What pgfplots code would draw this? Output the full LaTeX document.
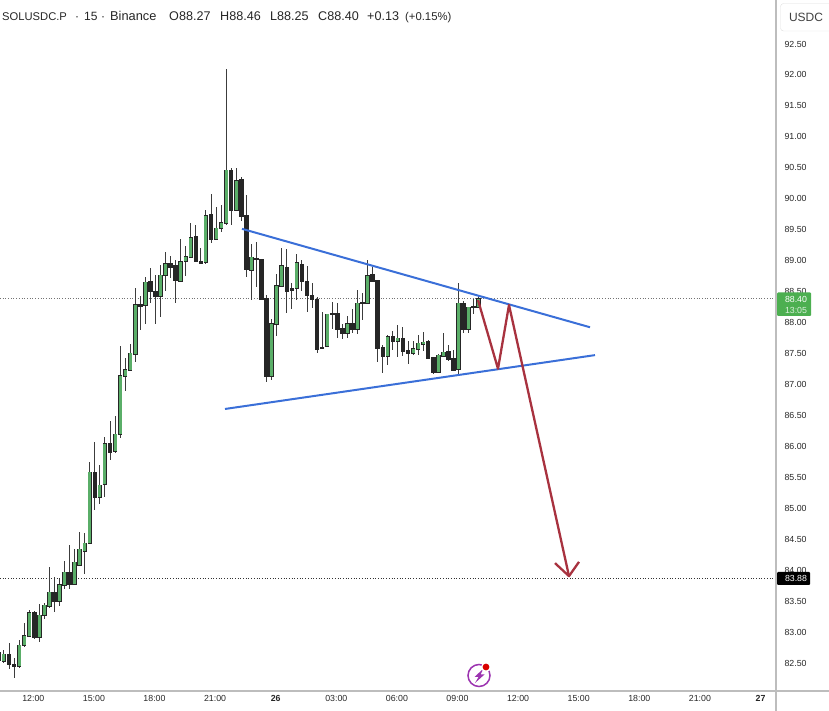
\documentclass[border=0pt]{standalone}
\usepackage{fontspec}
\setmainfont{Liberation Sans}
\usepackage{pgfplots}
\usepackage{pgfplotstable}
\pgfplotsset{compat=1.18}
\definecolor{upbody}{HTML}{5AAE68}
\definecolor{wick}{HTML}{3C3C3C}
\definecolor{tline}{HTML}{3A6FD8}
\definecolor{arrowred}{HTML}{A8323F}
\definecolor{frameline}{HTML}{BDBDBD}
\definecolor{tagbg}{HTML}{4CAF50}
\definecolor{logo}{HTML}{9C34B0}

% k high top bot low, 15 min candles
\pgfplotstableread{
k high top bot low
-1 82.71 82.68 82.56 82.50
0 82.73 82.66 82.55 82.52
3 82.89 82.80 82.46 82.44
4 83.17 82.96 82.81 82.78
5 83.37 83.33 82.95 82.94
7 83.47 83.29 82.93 82.86
8 83.48 83.45 83.29 83.22
9 84.07 83.66 83.44 83.41
11 83.88 83.78 83.52 83.43
12 84.17 83.98 83.78 83.71
14 84.36 84.14 83.79 83.77
15 84.63 84.35 84.10 84.08
16 84.61 84.45 84.33 83.95
17 85.76 85.60 84.45 84.44
19 85.71 85.39 85.19 85.09
20 86.16 86.06 85.40 85.20
22 86.50 86.21 85.94 85.91
23 87.63 87.16 86.21 86.15
24 87.45 87.25 87.16 86.91
25 87.67 87.52 87.25 87.23
26 88.58 88.30 87.51 87.38
28 88.76 88.67 88.30 88.00
31 88.94 88.78 88.45 88.11
32 89.16 88.97 88.79 88.52
35 89.37 89.00 88.69 88.68
36 89.25 89.08 89.01 88.77
37 89.62 89.39 89.08 89.08
40 89.83 89.74 89.00 88.96
42 89.89 89.54 89.36 89.36
43 89.92 89.63 89.54 89.48
44 92.11 90.48 89.62 89.59
46 90.51 90.31 89.83 89.83
49 89.29 89.07 88.87 88.38
53 88.07 88.00 87.16 87.08
54 88.80 88.61 88.00 87.80
55 89.22 88.93 88.61 88.59
58 89.12 88.98 88.57 88.38
64 88.15 88.15 87.63 87.62
68 88.13 88.00 87.84 87.76
70 88.55 88.33 87.92 87.83
72 89.02 88.77 88.33 88.33
76 87.81 87.79 87.48 87.33
78 87.98 87.76 87.72 87.46
81 87.72 87.59 87.52 87.49
82 87.81 87.68 87.59 87.49
83 87.87 87.70 87.67 87.56
86 87.50 87.49 87.21 87.20
87 87.84 87.54 87.48 87.48
90 88.65 88.33 87.26 87.19
92 88.27 88.26 87.91 87.85
94 88.46 88.40 88.27 88.25
}\upcandles

\pgfplotstableread{
k high top bot low
1 82.84 82.66 82.50 82.42
2 82.59 82.50 82.46 82.27
6 83.35 83.33 82.93 82.91
10 83.90 83.65 83.52 83.34
13 84.42 83.98 83.79 83.71
18 86.08 85.60 85.19 84.99
21 86.43 86.07 85.93 85.80
27 88.45 88.30 88.29 87.89
29 88.90 88.68 88.53 88.33
30 88.78 88.52 88.45 87.99
33 89.09 88.97 88.92 88.73
34 89.02 88.93 88.70 88.34
38 89.59 89.41 89.01 89.00
39 89.22 89.01 88.98 88.96
41 90.10 89.76 89.37 89.30
45 90.52 90.47 89.83 89.59
47 90.37 90.32 89.74 89.66
48 90.08 89.74 88.88 88.75
50 89.32 89.05 89.04 88.59
51 89.03 89.03 88.40 88.38
52 88.46 88.41 87.16 87.06
56 89.20 88.91 88.53 88.17
57 88.65 88.56 88.55 88.23
59 89.02 88.96 88.69 88.53
60 88.93 88.68 88.46 88.19
61 88.66 88.46 88.40 88.25
62 88.43 88.39 87.59 87.52
63 88.18 87.62 87.60 87.60
65 88.35 88.16 88.15 87.92
66 88.33 88.17 87.91 87.76
67 88.00 87.92 87.85 87.75
69 88.23 88.00 87.91 87.84
71 88.49 88.34 88.33 88.06
73 88.92 88.79 88.69 88.68
74 88.70 88.69 87.61 87.38
75 87.65 87.61 87.48 87.20
77 87.88 87.79 87.72 87.57
79 87.94 87.76 87.56 87.48
80 87.71 87.57 87.52 87.34
84 87.73 87.71 87.45 87.44
85 87.45 87.45 87.21 87.19
88 87.65 87.55 87.42 87.40
89 87.57 87.44 87.25 87.24
91 88.37 88.33 87.91 87.84
93 88.40 88.27 88.26 88.16
}\downcandles

\pgfplotsset{
  candlebar/.style={draw=none, mark=none, forget plot,
    error bars/y dir=both, error bars/y explicit, error bars/error mark=none,
    error bars/error bar style={line width=#1}},
}
% wick, then dark outline, then fill
\newcommand{\wicks}[1]{
  \addplot[candlebar=1pt, error bars/error bar style={color=wick}] table[x=k, y=bot,
    y error plus expr=\thisrow{high}-\thisrow{bot},
    y error minus expr=\thisrow{bot}-\thisrow{low}] {#1};
}
\newcommand{\bodies}[2]{
  \addplot[candlebar=4.5pt, error bars/error bar style={color=black!85}] table[x=k, y=bot,
    y error plus expr=\thisrow{top}-\thisrow{bot}+0.008,
    y error minus expr=0.008] {#1};
  \addplot[candlebar=3pt, error bars/error bar style={color=#2}] table[x=k, y=bot,
    y error plus expr=\thisrow{top}-\thisrow{bot},
    y error minus expr=0] {#1};
}

\begin{document}
\begin{tikzpicture}
\path[use as bounding box] (0,0) rectangle (829pt,711pt);
\begin{axis}[
  at={(0pt,20pt)}, anchor=south west,
  scale only axis, width=776pt, height=691pt,
  xmin=-0.79, xmax=152.87, ymin=82.064, ymax=93.227,
  axis x line*=bottom, axis y line*=right,
  axis line style={frameline, line width=1.2pt, -},
  major tick length=0pt,
  xtick={6,18,30,42,54,66,78,90,102,114,126,138,150},
  xticklabels={12:00,15:00,18:00,21:00,\textbf{26},03:00,06:00,09:00,12:00,15:00,18:00,21:00,\textbf{27}},
  ytick={82.5,83,83.5,84,84.5,85,85.5,86,86.5,87,87.5,88,88.5,89,89.5,90,90.5,91,91.5,92,92.5},
  /pgf/number format/.cd, fixed, fixed zerofill, precision=2, assume math mode=true,
  /pgfplots/.cd,
  yticklabel style={font=\fontsize{8.8}{10}\selectfont, text=black!85, anchor=west, xshift=5pt, yshift=1pt},
  xticklabel style={font=\fontsize{8.8}{10}\selectfont, text=black!85, yshift=-1pt, xshift=-1pt},
]
\addplot[black!55, line width=0.7pt, dotted] coordinates {(-0.79,88.40) (152.87,88.40)};
\addplot[black!80, line width=0.7pt, dotted] coordinates {(-0.79,83.88) (152.87,83.88)};

\wicks{\downcandles}
\wicks{\upcandles}
\bodies{\downcandles}{black!85}
\bodies{\upcandles}{upbody}

\addplot[tline, line width=2pt] coordinates {(47.13,89.53) (116.04,87.94)};
\addplot[tline, line width=2pt] coordinates {(43.76,86.62) (117.03,87.49)};
\addplot[arrowred, line width=2.3pt, line join=round] coordinates {(93.86,88.38) (97.82,87.27) (100,88.30) (111.88,83.92)};
\addplot[arrowred, line width=2.3pt, line join=round] coordinates {(109.1,84.13) (111.88,83.92) (113.86,84.15)};
\end{axis}

\begin{scope}[shift={(0pt,711pt)}, x=1pt, y=-1pt]
  \draw[frameline, line width=1.2pt] (776,691) -- (829,691);
  \draw[frameline, line width=2pt] (776,0) -- (776,711);
  % currency button
  \draw[black!12, fill=white, rounded corners=3pt] (780.5,3.5) rectangle (835,31);
  \node[font=\fontsize{12}{14}\selectfont, text=black!75] at (806,17) {USDC};
  % header, one piece per group
  \foreach \xx/\ss/\tt in {2/11.2/{SOLUSDC.P},75/12/{·},84/12/{15},101/12/{·},110/12.8/{Binance},169/12.6/{O88.27},220/12.6/{H88.46},270/12.6/{L88.25},318/12.6/{C88.40},367/12.6/{+0.13},405/11.3/{(+0.15\%)}}
    \node[anchor=base west, inner sep=0pt, font=\fontsize{\ss}{14}\selectfont, text=black!85] at (\xx,20.5) {\tt};
  % price tags
  \fill[tagbg, rounded corners=1pt] (777,292.5) rectangle (811,316);
  \node[font=\fontsize{8.8}{10}\selectfont, text=white] at (796,299) {88.40};
  \node[font=\fontsize{8.8}{10}\selectfont, text=white!80!tagbg] at (796,310.5) {13:05};
  \fill[black, rounded corners=1pt] (777,572) rectangle (810,585);
  \node[font=\fontsize{8.8}{10}\selectfont, text=white] at (796,578.5) {83.88};
  % logo
  \draw[logo, line width=1.5pt] (479,675.5) circle (11);
  \fill[logo] (483.5,668.5) -- (474.5,677) -- (478.5,677) -- (475,683) -- (484.5,674.5) -- (480.5,674.5) -- cycle;
  \fill[white] (486,667) circle (5);
  \fill[red!85!black] (486,667) circle (3.4);
\end{scope}
\end{tikzpicture}
\end{document}
